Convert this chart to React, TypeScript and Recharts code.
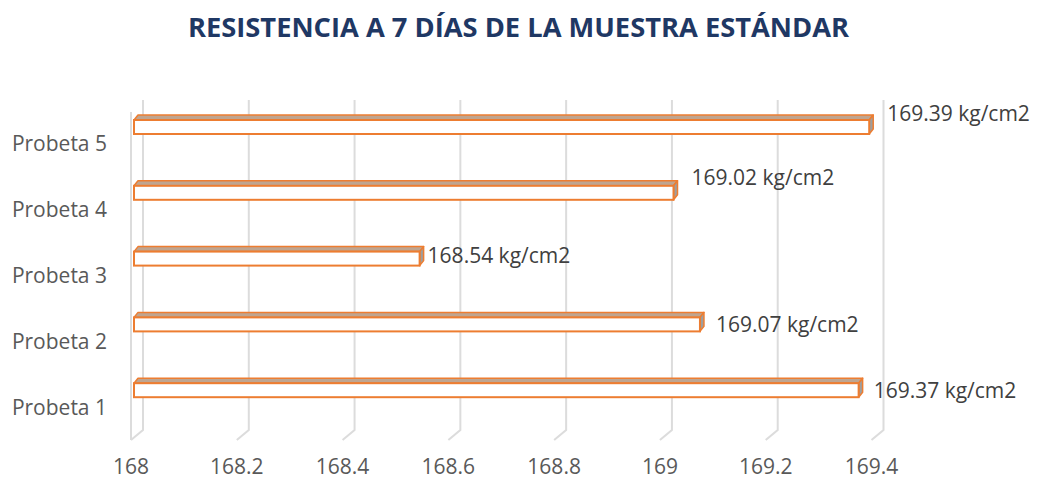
import React from 'react';
import { BarChart, Bar, XAxis, YAxis, CartesianGrid } from 'recharts';

const CATEGORIES = ['Probeta 1', 'Probeta 2', 'Probeta 3', 'Probeta 4', 'Probeta 5'];
const VALUES = [169.37, 169.07, 168.54, 169.02, 169.39];
const X_TICKS = [168, 168.2, 168.4, 168.6, 168.8, 169, 169.2, 169.4];
const UNIT = 'kg/cm2';
const TITLE = 'RESISTENCIA A 7 DÍAS DE LA MUESTRA ESTÁNDAR';

const data = CATEGORIES.map((name, i) => ({ name, value: VALUES[i] }));

// label nudges (style), indexed like data
const LABEL_NUDGE = [
  { dx: 11, dy: 0 },
  { dx: 12, dy: 0 },
  { dx: 4, dy: -4 },
  { dx: 14, dy: -16 },
  { dx: 14, dy: -14 },
];

const ORANGE = '#ED7D31';
const FONT = "'Open Sans', 'Liberation Sans', sans-serif";
const DEPTH_X = 4;
const DEPTH_Y = 5;

const Bar3D = (props: any) => {
  const { x, y, width, height, index, payload } = props;
  const x0 = x + 3;
  const y0 = y - 17;
  const w = width;
  const h = height;
  const v = payload && typeof payload.value === 'number' ? payload.value : VALUES[index];
  const nudge = LABEL_NUDGE[index] || { dx: 8, dy: 0 };
  const top = `M${x0},${y0} L${x0 + DEPTH_X},${y0 - DEPTH_Y} L${x0 + w + DEPTH_X},${y0 - DEPTH_Y} L${x0 + w},${y0} Z`;
  const side = `M${x0 + w},${y0} L${x0 + w + DEPTH_X},${y0 - DEPTH_Y} L${x0 + w + DEPTH_X},${y0 + h - DEPTH_Y} L${x0 + w},${y0 + h} Z`;
  return (
    <g>
      <path d={top} fill="#BFA590" stroke={ORANGE} strokeWidth={1.5} strokeLinejoin="round" />
      <path d={side} fill="#9E9E9E" stroke={ORANGE} strokeWidth={1.5} strokeLinejoin="round" />
      <rect x={x0} y={y0} width={w} height={h} fill="#FFFFFF" stroke={ORANGE} strokeWidth={2} />
      <text
        x={x0 + w + DEPTH_X + nudge.dx}
        y={y0 + h / 2 + nudge.dy}
        dominantBaseline="central"
        fontFamily={FONT}
        fontSize={21}
        fill="#404040"
      >
        {`${v.toFixed(2)} ${UNIT}`}
      </text>
    </g>
  );
};

const GridLine3D = (props: any) => {
  const { x1, y1, y2, index } = props;
  const fx = x1;
  const bx = x1 + 12;
  return (
    <g key={`grid-${index}-${fx}`}>
      <path
        d={`M${bx},${y1 - 11} L${bx},${y2 - 10} L${fx},${y2}`}
        fill="none"
        stroke="#DCDCDC"
        strokeWidth={2}
      />
      {index === 0 ? (
        <path d={`M${fx},${y1 + 1} L${fx},${y2}`} fill="none" stroke="#DCDCDC" strokeWidth={2} />
      ) : null}
    </g>
  );
};

export default function App() {
  return (
    <div style={{ position: 'absolute', left: 0, top: 0, width: 1037, height: 479, background: '#fff' }}>
      <BarChart
        width={1037}
        height={479}
        data={data}
        layout="vertical"
        margin={{ top: 111, right: 165.5, bottom: 0, left: 10 }}
        barSize={14}
      >
        <CartesianGrid horizontal={false} vertical={GridLine3D as any} />
        <XAxis
          type="number"
          domain={[168, 169.4]}
          ticks={X_TICKS}
          axisLine={false}
          tickLine={false}
          tickSize={0}
          tickMargin={19}
          height={39}
          tick={{ fill: '#595959', fontSize: 21, fontFamily: FONT }}
        />
        <YAxis
          type="category"
          dataKey="name"
          reversed
          width={121}
          axisLine={false}
          tickLine={false}
          tickSize={0}
          tickMargin={24}
          tick={{ fill: '#595959', fontSize: 21, fontFamily: FONT }}
        />
        <Bar dataKey="value" shape={Bar3D} isAnimationActive={false} />
      </BarChart>
      <svg
        width={1037}
        height={60}
        style={{ position: 'absolute', left: 0, top: 0, pointerEvents: 'none' }}
      >
        <text
          x={188}
          y={37}
          textLength={661}
          lengthAdjust="spacingAndGlyphs"
          fontFamily={FONT}
          fontWeight="bold"
          fontSize={27}
          fill="#1F3864"
        >
          {TITLE}
        </text>
      </svg>
    </div>
  );
}
